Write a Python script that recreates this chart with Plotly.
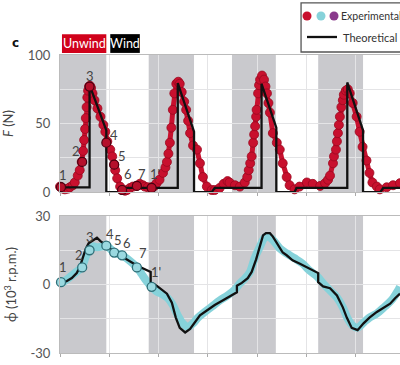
import plotly.graph_objects as go

# ---------------- data ----------------
# unwind (grey) phases, seconds
band_start = [0.0, 0.90, 1.745, 2.62]
band_end = [0.47, 1.36, 2.19, 3.075]

# experimental force F (N)
exp_t = [0.00, 0.03, 0.05, 0.08, 0.10, 0.13, 0.15, 0.18, 0.20, 0.22, 0.235, 0.245, 0.255, 0.262,
         0.27, 0.277, 0.285, 0.295, 0.305, 0.315, 0.33, 0.35, 0.38, 0.41, 0.44, 0.46, 0.48, 0.51,
         0.53, 0.55, 0.56, 0.58, 0.61, 0.63, 0.66, 0.68, 0.71, 0.74, 0.78, 0.81, 0.84, 0.86, 0.89,
         0.93, 0.96, 0.98, 1.01, 1.045, 1.07, 1.085, 1.10, 1.115, 1.13, 1.145, 1.16, 1.18, 1.20,
         1.215, 1.235, 1.26, 1.28, 1.30, 1.32, 1.35, 1.39, 1.42, 1.45, 1.49, 1.54, 1.57, 1.62,
         1.66, 1.70, 1.72, 1.775, 1.825, 1.875, 1.90, 1.915, 1.93, 1.945, 1.96, 1.97, 1.98, 1.99,
         1.995, 2.01, 2.02, 2.03, 2.05, 2.07, 2.085, 2.10, 2.115, 2.13, 2.16, 2.20, 2.23, 2.26,
         2.30, 2.33, 2.38, 2.43, 2.505, 2.565, 2.64, 2.69, 2.72, 2.74, 2.77, 2.78, 2.80, 2.81, 2.82,
         2.83, 2.84, 2.855, 2.87, 2.88, 2.90, 2.92, 2.94, 2.97, 3.01, 3.04, 3.07, 3.11, 3.14, 3.17,
         3.215, 3.245, 3.315, 3.38, 3.45]
exp_F = [4, 2.5, 2, 2.5, 3.5, 5, 7, 12, 16, 22, 30, 38, 46, 54,
         62, 69, 74, 77, 77.5, 76, 72, 67, 61, 55, 49, 44, 37, 31,
         26, 20, 16, 10, 4, 1.5, 1, 1.5, 3, 4, 4.5, 6, 5, 4, 3.5,
         3.6, 4.5, 6.5, 9, 14, 18, 22, 28, 36, 47, 60, 72, 79, 80.5,
         79, 73, 66, 60, 52, 43, 34, 31, 21, 11, 4, 1.5, 1.5, 3,
         6, 8, 7, 5, 4, 7, 11, 16, 21, 26, 36, 42, 48, 55,
         60, 72, 78, 82, 85, 82, 77, 72, 65, 58, 43, 36, 31, 21,
         11, 5, 2, 4, 7, 6, 4.5, 6.5, 9, 12, 21, 26, 31, 37, 43,
         49, 55, 62, 67, 71, 74, 75, 72, 65, 55, 44, 33, 23, 14, 7,
         4, 2, 3.5, 5, 6.5]

# theoretical force F (N)
th_t = [0.0, 0.30, 0.30, 0.47, 0.47, 0.61, 0.63, 1.195, 1.195, 1.36, 1.36, 1.54, 1.57,
        2.045, 2.045, 2.195, 2.195, 2.38, 2.40, 2.915, 2.915, 3.075, 3.075, 3.25, 3.28, 3.45]
th_F = [3.5, 3.5, 78, 45, 0, 0, 3, 3, 79.5, 44, 0, 0, 3,
        3, 79, 47, 0, 0, 3, 3, 80, 45, 0, 0, 3, 3]

# experimental angular velocity (10^3 rpm)
exp_w_t = [0.01, 0.07, 0.15, 0.22, 0.26, 0.29, 0.335, 0.375, 0.435, 0.47, 0.525, 0.55, 0.63,
           0.69, 0.78, 0.83, 0.87, 0.93, 0.98, 1.045, 1.095, 1.145, 1.195, 1.245, 1.30, 1.35,
           1.40, 1.47, 1.54, 1.62, 1.70, 1.775, 1.825, 1.875, 1.925, 1.975, 2.03, 2.08, 2.13,
           2.18, 2.23, 2.30, 2.38, 2.46, 2.535, 2.61, 2.67, 2.74, 2.81, 2.87, 2.92, 2.97, 3.02,
           3.08, 3.14, 3.215, 3.295, 3.37, 3.43, 3.45]
exp_w = [0.5, 2.2, 5, 7.5, 12, 15, 16.7, 16.3, 16.7, 17, 15, 14, 12.8,
         11, 7.5, 4.5, 2, -1, -3, -4.4, -6, -9, -13.5, -17, -18.5, -17,
         -14.5, -12, -9.7, -7, -4.8, -2.2, 0.5, 2.6, 5.3, 11.5, 16.7, 20.6, 20.6,
         18.5, 15.8, 13.6, 11.5, 9.2, 6, 3.5, 0.5, -2.6, -5.7, -10, -15, -18, -18.9,
         -16.7, -14.5, -12.7, -9.7, -6.6, -2.6, -1]

# theoretical angular velocity (10^3 rpm)
th_w_t = [0.01, 0.07, 0.12, 0.17, 0.20, 0.23, 0.26, 0.29, 0.35, 0.375, 0.41, 0.46, 0.56, 0.63,
          0.78, 0.92, 0.92, 0.98, 1.01, 1.085, 1.135, 1.175, 1.215, 1.27, 1.32, 1.37, 1.42,
          1.49, 1.57, 1.65, 1.72, 1.795, 1.795, 1.845, 1.905, 1.945, 1.99, 2.03, 2.06, 2.09,
          2.13, 2.16, 2.20, 2.26, 2.30, 2.36, 2.43, 2.505, 2.565, 2.62, 2.62, 2.67, 2.74, 2.81,
          2.87, 2.91, 2.96, 3.02, 3.08, 3.14, 3.215, 3.275, 3.35, 3.40, 3.45]
th_w = [0.5, 1.5, 2.8, 5, 7.5, 12, 15.5, 18, 20, 20.5, 19, 17.5, 14, 12.3,
        8.3, 5.5, 1, -0.5, -1.5, -4, -8, -14.5, -19, -21, -19.5, -16.7, -13.5,
        -11.4, -9, -7, -5.3, -3.4, -0.5, 0.7, 2.8, 5.5, 11, 17.5, 21.5, 22.5,
        22.5, 21, 18, 14, 12.8, 10.6, 9.2, 7.5, 6.2, 5, 1, -0.8, -1.6, -4.8,
        -10, -14.5, -19, -20, -17, -14.5, -12, -10.5, -8.4, -6, -4]

# numbered states 1..7, 1'
state_labels = ["1", "2", "3", "4", "5", "6", "7", "1'"]
state_t = [0.01, 0.225, 0.30, 0.47, 0.55, 0.63, 0.78, 0.93]
state_F = [3.6, 22, 77, 36, 20, 1.5, 4.5, 3]
state_w = [1, 7.5, 15, 17, 14, 12.8, 7.5, -1]

# ---------------- styles ----------------
FONT = "Lato, Liberation Sans, sans-serif"
RED = "#c8102e"
CYAN = "#86d2da"
PURPLE = "#8a3a8c"
GREY_BAND = "#c9c9cd"
TXT = "#444444"

# label offsets in px (dx, dy) for top and bottom panels
top_off = [(2, 12), (-6, 11), (0, 11), (8, 8), (8, 9), (6, 16), (5, 12), (3, 14)]
bot_off = [(2, 15), (-3, 12), (0, 13), (4, 12), (4, 13), (5, 12), (6, 14), (4, 15)]

fig = go.Figure()

# top panel
fig.add_trace(go.Scatter(x=exp_t, y=exp_F, mode="lines+markers", xaxis="x", yaxis="y",
                         line=dict(color=RED, width=5),
                         marker=dict(size=9, color=RED, line=dict(color="#99091f", width=0.8)),
                         cliponaxis=False, showlegend=False))
fig.add_trace(go.Scatter(x=th_t, y=th_F, mode="lines", xaxis="x", yaxis="y",
                         line=dict(color="#111111", width=2.3), showlegend=False))
fig.add_trace(go.Scatter(x=state_t, y=state_F, mode="markers", xaxis="x", yaxis="y",
                         marker=dict(size=9, color="#b5102b", line=dict(color="#4a0010", width=1.2)),
                         cliponaxis=False, showlegend=False))

# bottom panel
fig.add_trace(go.Scatter(x=exp_w_t, y=exp_w, mode="lines", xaxis="x2", yaxis="y2",
                         line=dict(color=CYAN, width=8, shape="spline"), showlegend=False))
fig.add_trace(go.Scatter(x=th_w_t, y=th_w, mode="lines", xaxis="x2", yaxis="y2",
                         line=dict(color="#111111", width=2.3), showlegend=False))
fig.add_trace(go.Scatter(x=state_t, y=state_w, mode="markers", xaxis="x2", yaxis="y2",
                         marker=dict(size=9, color="#9ad9e0", line=dict(color="#2f6f78", width=1.3)),
                         cliponaxis=False, showlegend=False))

shapes = []
for s, e in zip(band_start, band_end):
    for xr, yr in (("x", "y domain"), ("x2", "y2 domain")):
        shapes.append(dict(type="rect", xref=xr, yref=yr, x0=s, x1=e, y0=0, y1=1,
                           fillcolor=GREY_BAND, line=dict(width=0), layer="below"))

# Unwind / Wind boxes above first cycle
shapes.append(dict(type="rect", xref="x", yref="paper", x0=0.02, x1=0.47, y0=1.007, y1=1.07,
                   fillcolor="#d0021b", line=dict(width=0)))
shapes.append(dict(type="rect", xref="x", yref="paper", x0=0.51, x1=0.81, y0=1.007, y1=1.07,
                   fillcolor="#000000", line=dict(width=0)))

# legend box
shapes.append(dict(type="rect", xref="paper", yref="paper", x0=0.709, x1=1.02, y0=1.010, y1=1.175,
                   fillcolor="white", line=dict(color="#555555", width=1.3)))
for xa, col in ((0.7265, RED), (0.7676, CYAN), (0.8059, PURPLE)):
    shapes.append(dict(type="circle", xref="paper", yref="paper", xsizemode="pixel", ysizemode="pixel",
                       xanchor=xa, yanchor=1.1309, x0=-4.5, x1=4.5, y0=-4.5, y1=4.5,
                       fillcolor=col, line=dict(width=0)))
shapes.append(dict(type="line", xref="paper", yref="paper", x0=0.7265, x1=0.8147, y0=1.0604, y1=1.0604,
                   line=dict(color="#111111", width=2.3)))

annotations = []
for lab, t, f, (dx, dy) in zip(state_labels, state_t, state_F, top_off):
    annotations.append(dict(x=t, y=f, xref="x", yref="y", text=lab, showarrow=False,
                            xanchor="center", yanchor="middle",
                            xshift=dx, yshift=dy, font=dict(family=FONT, size=13, color=TXT)))
for lab, t, w, (dx, dy) in zip(state_labels, state_t, state_w, bot_off):
    annotations.append(dict(x=t, y=w, xref="x2", yref="y2", text=lab, showarrow=False,
                            xanchor="center", yanchor="middle",
                            xshift=dx, yshift=dy, font=dict(family=FONT, size=13, color=TXT)))
annotations += [
    dict(x=0.245, y=1.0385, xref="x", yref="paper", text="Unwind", showarrow=False,
         xanchor="center", yanchor="middle", font=dict(family=FONT, size=12.5, color="white")),
    dict(x=0.66, y=1.0385, xref="x", yref="paper", text="Wind", showarrow=False,
         xanchor="center", yanchor="middle", font=dict(family=FONT, size=12.5, color="white")),
    dict(x=-0.132, y=1.040, xref="paper", yref="paper", text="<b>c</b>", showarrow=False,
         xanchor="center", yanchor="middle",
         font=dict(family="DejaVu Sans", size=12, color="#111111")),
    dict(x=0.8206, y=1.1309, xref="paper", yref="paper", text="Experimental", showarrow=False,
         xanchor="left", yanchor="middle", font=dict(family=FONT, size=10.5, color="#333333")),
    dict(x=0.8265, y=1.0604, xref="paper", yref="paper", text="Theoretical", showarrow=False,
         xanchor="left", yanchor="middle", font=dict(family=FONT, size=11, color="#333333")),
]

xcommon = dict(range=[0, 3.45], dtick=0.5, tick0=0, showgrid=True, gridcolor="#e4e4e6",
               gridwidth=1, showticklabels=False, ticks="outside", ticklen=3, tickcolor="#aaaaaa",
               showline=True, linecolor="#bbbbbb", linewidth=1, mirror=True, zeroline=False)
ycommon = dict(showgrid=True, gridcolor="#e4e4e6", gridwidth=1, showline=True, linecolor="#bbbbbb",
               linewidth=1, mirror=True, zeroline=False, ticks="", ticklabelstandoff=6,
               tickfont=dict(family=FONT, size=13, color="#555555"))

fig.update_layout(
    width=400, height=365,
    margin=dict(l=60, r=0, t=55, b=12),
    paper_bgcolor="white", plot_bgcolor="white",
    xaxis=dict(domain=[0, 1], anchor="y", **xcommon),
    xaxis2=dict(domain=[0, 1], anchor="y2", matches="x", **xcommon),
    yaxis=dict(domain=[0.540, 1], anchor="x", range=[0, 100], tickvals=[0, 25, 50, 75, 100],
               ticktext=["0", "", "50", "", "100"],
               title=dict(text="<i>F</i> (N)", standoff=14, font=dict(family=FONT, size=13, color="#444444")),
               **ycommon),
    yaxis2=dict(domain=[0, 0.4597], anchor="x2", range=[-30, 30], tickvals=[-30, -15, 0, 15, 30],
                ticktext=["-30", "", "0", "", "30"],
                title=dict(text="\u03d5\u0307 (10<sup>3</sup> r.p.m.)", standoff=10,
                           font=dict(family=FONT, size=13, color="#444444")),
                **ycommon),
    shapes=shapes, annotations=annotations, showlegend=False,
)

fig.write_html("out.html")
